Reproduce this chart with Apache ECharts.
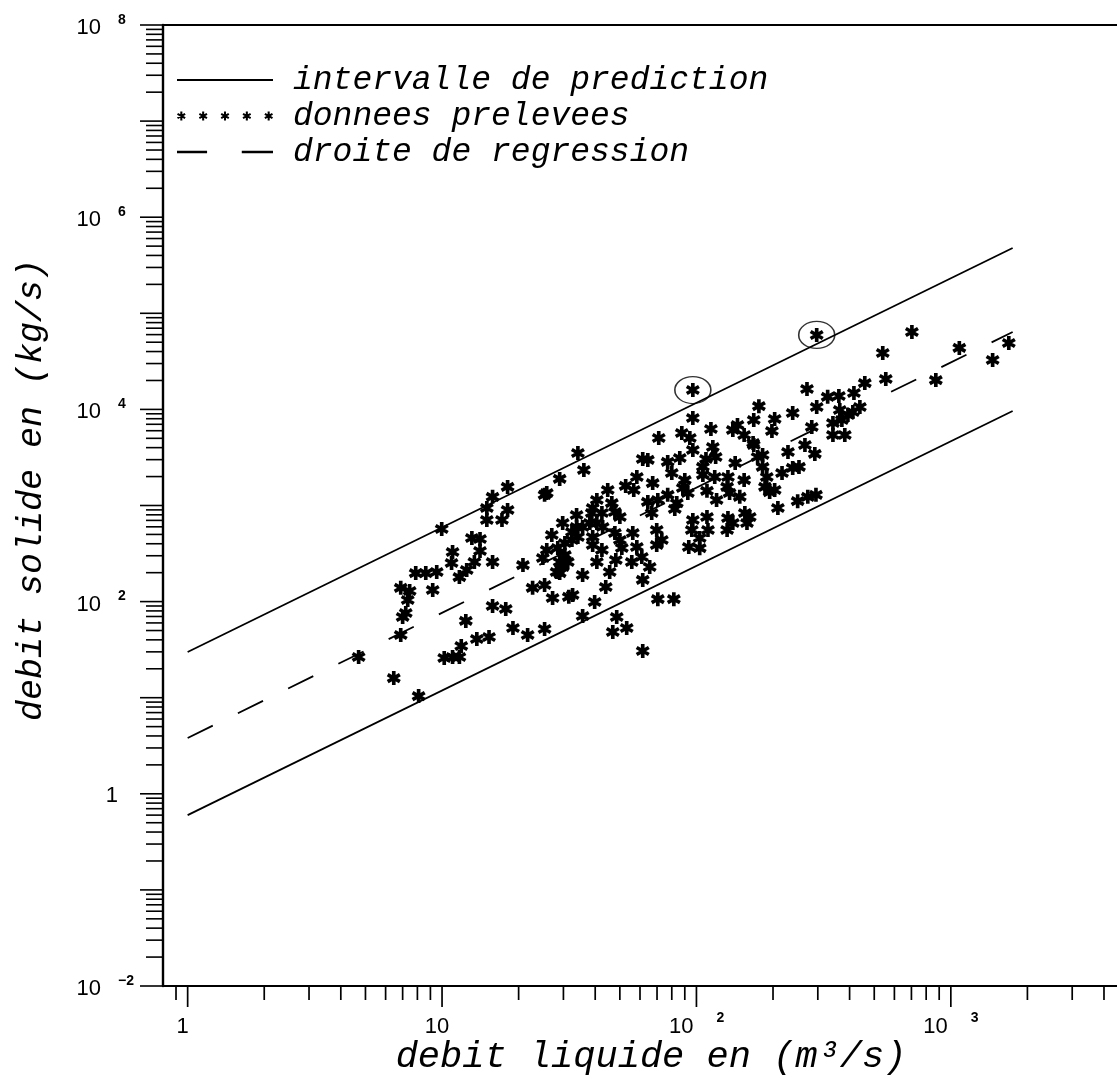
<!DOCTYPE html>
<html>
<head>
<meta charset="utf-8">
<script src="https://cdn.jsdelivr.net/npm/echarts@6/dist/echarts.min.js"></script>
<style>
html, body { margin: 0; padding: 0; background: #fff; }
#chart { width: 1117px; height: 1087px; }
</style>
</head>
<body>
<div id="chart"></div>
<script>
// ---------------- data ----------------
// debit liquide (m3/s) and debit solide (kg/s) of the sampled points
const qLiquide = [
  96.8, 34.2, 36.1, 29.0, 25.3, 25.8, 18.1, 15.8, 18.1, 15.0, 15.0, 17.2, 9.97, 13.1, 14.1, 14.1,
  11.0, 13.4, 10.9, 15.8, 12.5, 11.7, 7.88, 8.63, 9.53, 6.88, 7.46, 9.19, 7.33, 7.20, 7.00, 6.88,
  4.70, 6.46, 8.09, 12.4, 15.8, 17.8, 11.9, 10.2, 11.0, 11.7, 13.7, 15.3, 19.0, 21.7, 25.3, 20.8,
  22.7, 25.3, 27.2, 31.5, 32.6, 35.7, 39.8, 44.0, 35.7, 48.6, 46.9, 53.2, 61.5, 70.5, 81.5, 29.8,
  33.8, 32.4, 35.7, 34.2, 39.1, 40.6, 38.8, 42.5, 39.1, 30.4, 27.0, 30.4, 29.0, 29.8, 28.2, 25.8,
  24.9, 29.0, 42.5, 40.6, 48.2, 45.6, 47.8, 50.0, 50.9, 55.7, 61.0, 65.5, 61.5, 56.2, 58.3, 44.8,
  40.6, 39.1, 46.5, 47.8, 50.0, 42.8, 38.1, 33.8, 32.4, 28.5, 31.2, 58.3, 52.7, 56.7,
  297, 703, 540, 1080, 1690, 1460, 873, 555, 459, 416, 363, 328, 272, 297, 366, 412,
  439, 394, 373, 344, 284, 344, 383, 267, 292, 229, 239, 203, 198, 176, 168, 145,
  154, 139, 168, 182, 116, 114, 96.8, 87.6, 94.2, 71.1, 96.8, 119, 109, 86.0, 77.1, 61.5,
  64.4, 80.0, 67.3, 90.0, 88.4, 106, 106, 118, 110, 120, 133, 142, 132, 135, 148, 154,
  167, 174, 182, 189, 186, 194, 203, 217, 239, 253, 209, 250, 274, 295, 83.7, 82.2,
  70.5, 64.4, 77.1, 66.7, 96.8, 110, 111, 95.9, 103, 133, 155, 162, 139, 158, 132, 69.8,
  73.1, 69.8, 93.3, 92.5, 103
];
const qSolide = [
  15900, 3520, 2340, 1890, 1290, 1350, 1560, 1230, 898, 942, 707, 707, 569, 459, 448, 336,
  328, 258, 252, 258, 213, 180, 198, 198, 203, 139, 129, 132, 104, 76.1, 69.2, 44.9,
  26.5, 16.0, 10.4, 62.9, 90.0, 83.8, 34.5, 25.9, 26.5, 26.5, 40.8, 42.8, 53.1, 44.9, 51.9, 240,
  139, 149, 109, 112, 117, 189, 99, 142, 70.8, 69.2, 48.3, 53.1, 30.6, 106, 106, 658,
  797, 530, 598, 470, 470, 658, 836, 836, 388, 407, 493, 305, 258, 229, 203, 344,
  284, 198, 344, 258, 271, 203, 517, 438, 361, 258, 291, 229, 168, 517, 370, 1450,
  1140, 942, 1060, 856, 759, 598, 658, 598, 438, 361, 258, 1980, 1600, 1450,
  59500, 63900, 38600, 43600, 49100, 32700, 20200, 20700, 18800, 14800, 13800, 13500, 16300, 10600, 9860, 9400,
  10600, 8750, 7760, 7220, 6560, 5420, 5420, 4260, 3440, 3600, 9180, 7940, 5960, 10800, 7760, 6880,
  5420, 6110, 4260, 3350, 4060, 6250, 8140, 5680, 5040, 5040, 3780, 3200, 3050, 3120, 2840, 3050,
  2980, 2180, 1710, 1840, 1520, 2520, 2080, 1980, 1420, 1140, 1980, 2770, 1560, 1350, 1230, 1840,
  4470, 3200, 2520, 1980, 1560, 1380, 1450, 2180, 2460, 2520, 942, 1110, 1230, 1290, 1060, 919,
  1140, 1090, 1290, 836, 707, 759, 556, 556, 459, 741, 836, 759, 658, 658, 556, 556,
  438, 388, 370, 1350, 360
];
// the two hand-circled points
const circledX = [96.8, 297];
const circledY = [15900, 59500];

// straight lines (end points)
const lineX = [1, 1750];
const predUpper = [29.9, 478000];
const predLower = [0.6, 9620];
const regression = [3.81, 63900];

// axis ranges, ticks and tick labels
const X_MIN = 0.8, X_MAX = 4500, Y_MIN = 0.01, Y_MAX = 1e8;
const xTickMajor = [1, 10, 100, 1000];
const xTickMinor = [0.9, 2, 3, 4, 5, 6, 7, 8, 9, 20, 30, 40, 50, 60, 70, 80, 90,
  200, 300, 400, 500, 600, 700, 800, 900, 2000, 3000, 4000];
const yTickMajor = [1e-2, 1e-1, 1, 1e1, 1e2, 1e3, 1e4, 1e5, 1e6, 1e7, 1e8];
const yTickMinor = [];
for (let e = -2; e < 8; e++) { for (let m = 2; m <= 9; m++) { yTickMinor.push(m * Math.pow(10, e)); } }
const xLabelVals = [1, 10, 100, 1000];
const xLabelBase = ['1', '10', '10', '10'];
const xLabelExp = ['', '', '2', '3'];
const yLabelVals = [0.01, 1, 100, 1e4, 1e6, 1e8];
const yLabelBase = ['10', '1', '10', '10', '10', '10'];
const yLabelExp = ['\u22122', '', '2', '4', '6', '8'];

const X_TITLE = 'debit liquide en (m\u00b3/s)';
const Y_TITLE = 'debit solide en (kg/s)';
const LEG_PRED = 'intervalle de prediction';
const LEG_DATA = 'donnees prelevees';
const LEG_REG = 'droite de regression';

// ---------------- helpers ----------------
function starPath(cx, cy, r, w) {
  let d = '';
  [90, 30, 150].forEach(function (deg) {
    const a = deg * Math.PI / 180;
    const dx = r * Math.cos(a), dy = r * Math.sin(a);
    const nx = -Math.sin(a) * w, ny = Math.cos(a) * w;
    const pts = [[dx + nx, dy + ny], [dx - nx, dy - ny], [-dx - nx, -dy - ny], [-dx + nx, -dy + ny]];
    d += 'M' + pts.map(function (p) { return (cx + p[0]).toFixed(2) + ',' + (cy + p[1]).toFixed(2); }).join('L') + 'Z';
  });
  return d;
}
const STAR = 'path://' + starPath(10, 10, 10, 2.6);
let fiveStars = '';
for (let k = 0; k < 5; k++) { fiveStars += starPath(4.7 + 23.3 * k, 4.7, 4.7, 1.1); }
const LEGEND_STARS = 'path://' + fiveStars;
const LEGEND_LINE = 'path://M0,0H92V2H0Z';
const LEGEND_DASH = 'path://M0,0H26V2H0ZM56,0H83V2H56Z';

const TITLE_FONT = 'Liberation Mono';
const LABEL_FONT = 'Liberation Sans';

const scatterData = qLiquide.map(function (x, i) { return [x, qSolide[i]]; });
const circledData = circledX.map(function (x, i) { return [x, circledY[i]]; });
const mkLine = function (ys) { return lineX.map(function (x, i) { return [x, ys[i]]; }); };

const xTickData = xTickMajor.map(function (v) { return [v, Y_MIN, 21]; })
  .concat(xTickMinor.map(function (v) { return [v, Y_MIN, 14]; }));
const yTickData = yTickMajor.map(function (v) { return [X_MIN, v, 23]; })
  .concat(yTickMinor.map(function (v) { return [X_MIN, v, 17]; }));
const xLabelData = xLabelVals.map(function (v, i) { return [v, Y_MIN, i]; });
const yLabelData = yLabelVals.map(function (v, i) { return [X_MIN, v, i]; });

function txt(x, y, text, size, align, weight) {
  return {
    type: 'text', x: x, y: y,
    style: { text: text, fill: '#000', fontSize: size, fontFamily: LABEL_FONT, fontWeight: weight || 'normal',
      align: align, verticalAlign: 'middle' }
  };
}

const chart = echarts.init(document.getElementById('chart'), null, { renderer: 'canvas' });
const option = {
  animation: false,
  backgroundColor: '#ffffff',
  grid: { left: 163, right: 0, top: 25, bottom: 101, containLabel: false, outerBoundsMode: 'none' },
  legend: {
    orient: 'vertical', left: 172, top: 57, padding: 5,
    itemWidth: 96, itemHeight: 14, itemGap: 0, selectedMode: false,
    textStyle: { fontFamily: TITLE_FONT, fontStyle: 'italic', fontSize: 33, color: '#000',
      lineHeight: 36, padding: [0, 0, 0, 15] },
    data: [
      { name: LEG_PRED, icon: LEGEND_LINE },
      { name: LEG_DATA, icon: LEGEND_STARS },
      { name: LEG_REG, icon: LEGEND_DASH }
    ]
  },
  xAxis: [
    {
      type: 'log', logBase: 10, min: X_MIN, max: X_MAX, position: 'bottom',
      axisLine: { show: true, onZero: false, lineStyle: { color: '#000', width: 2 } },
      axisTick: { show: false }, minorTick: { show: false }, axisLabel: { show: false },
      splitLine: { show: false }, minorSplitLine: { show: false },
      name: X_TITLE, nameLocation: 'middle', nameGap: 53,
      nameTextStyle: { fontFamily: TITLE_FONT, fontStyle: 'italic', fontSize: 37, color: '#000',
        padding: [0, 0, 0, 22] }
    },
    {
      type: 'log', logBase: 10, min: X_MIN, max: X_MAX, position: 'top',
      axisLine: { show: true, onZero: false, lineStyle: { color: '#000', width: 2 } },
      axisTick: { show: false }, minorTick: { show: false }, axisLabel: { show: false },
      splitLine: { show: false }
    }
  ],
  yAxis: [
    {
      type: 'log', logBase: 10, min: Y_MIN, max: Y_MAX, position: 'left',
      axisLine: { show: true, onZero: false, lineStyle: { color: '#000', width: 2.4 } },
      axisTick: { show: false }, minorTick: { show: false }, axisLabel: { show: false },
      splitLine: { show: false }, minorSplitLine: { show: false },
      name: Y_TITLE, nameLocation: 'middle', nameRotate: 90, nameGap: 114,
      nameTextStyle: { fontFamily: TITLE_FONT, fontStyle: 'italic', fontSize: 35, color: '#000',
        padding: [0, 0, 0, 31] }
    }
  ],
  series: [
    {
      name: LEG_PRED, type: 'line', data: mkLine(predUpper), symbol: 'none', silent: true,
      lineStyle: { color: '#000', width: 1.8 }, itemStyle: { color: '#000' }, z: 3
    },
    {
      name: LEG_PRED, type: 'line', data: mkLine(predLower), symbol: 'none', silent: true,
      lineStyle: { color: '#000', width: 1.8 }, itemStyle: { color: '#000' }, z: 3
    },
    {
      name: LEG_REG, type: 'line', data: mkLine(regression), symbol: 'none', silent: true,
      lineStyle: { color: '#000', width: 1.8, type: [28, 28] }, itemStyle: { color: '#000' }, z: 3
    },
    {
      name: LEG_DATA, type: 'scatter', data: scatterData, symbol: STAR, symbolSize: 14,
      itemStyle: { color: '#000', opacity: 1 }, silent: true, z: 4
    },
    {
      name: 'cercles', type: 'scatter', data: circledData, symbol: 'circle', symbolSize: [36, 27],
      itemStyle: { color: 'rgba(0,0,0,0)', borderColor: '#000', borderWidth: 1.4 }, silent: true, z: 4
    },
    {
      name: 'xticks', type: 'custom', coordinateSystem: 'cartesian2d', silent: true, clip: false,
      dimensions: ['x', 'y', 'len'], encode: { x: 0, y: 1 }, data: xTickData, z: 5,
      renderItem: function (params, api) {
        const p = api.coord([api.value(0), api.value(1)]);
        return { type: 'line', shape: { x1: p[0], y1: p[1], x2: p[0], y2: p[1] + api.value(2) },
          style: { stroke: '#000', lineWidth: 1.7 } };
      }
    },
    {
      name: 'yticks', type: 'custom', coordinateSystem: 'cartesian2d', silent: true, clip: false,
      dimensions: ['x', 'y', 'len'], encode: { x: 0, y: 1 }, data: yTickData, z: 5,
      renderItem: function (params, api) {
        const p = api.coord([api.value(0), api.value(1)]);
        return { type: 'line', shape: { x1: p[0] - api.value(2), y1: p[1], x2: p[0], y2: p[1] },
          style: { stroke: '#000', lineWidth: 1.6 } };
      }
    },
    {
      name: 'xlabels', type: 'custom', coordinateSystem: 'cartesian2d', silent: true, clip: false,
      dimensions: ['x', 'y', 'i'], encode: { x: 0, y: 1 }, data: xLabelData, z: 5,
      renderItem: function (params, api) {
        const p = api.coord([api.value(0), api.value(1)]);
        const i = api.value(2);
        if (!xLabelExp[i]) {
          return txt(p[0] - 5, p[1] + 41, xLabelBase[i], 22, 'center');
        }
        return { type: 'group', children: [
          txt(p[0] - 3, p[1] + 41, xLabelBase[i], 22, 'right'),
          txt(p[0] + 20, p[1] + 32, xLabelExp[i], 14, 'left', 'bold')
        ] };
      }
    },
    {
      name: 'ylabels', type: 'custom', coordinateSystem: 'cartesian2d', silent: true, clip: false,
      dimensions: ['x', 'y', 'i'], encode: { x: 0, y: 1 }, data: yLabelData, z: 5,
      renderItem: function (params, api) {
        const p = api.coord([api.value(0), api.value(1)]);
        const i = api.value(2);
        if (!yLabelExp[i]) {
          return txt(p[0] - 45, p[1] + 2, yLabelBase[i], 22, 'right');
        }
        return { type: 'group', children: [
          txt(p[0] - 62, p[1] + 3, yLabelBase[i], 22, 'right'),
          txt(p[0] - 45, p[1] - 5, yLabelExp[i], 14, 'left', 'bold')
        ] };
      }
    }
  ]
};
chart.setOption(option);
</script>
</body>
</html>
